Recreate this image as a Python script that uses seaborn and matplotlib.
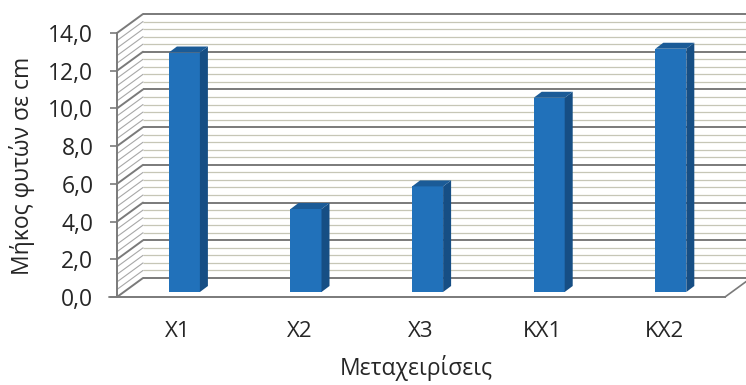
import numpy as np
import pandas as pd
import matplotlib
matplotlib.use("Agg")
import matplotlib.pyplot as plt
from matplotlib.patches import Polygon
import seaborn as sns

# Plant length per treatment (cm)
categories = ["X1", "X2", "X3", "KX1", "KX2"]
lengths = [12.7, 4.4, 5.6, 10.3, 12.9]
y_ticks = [0, 2, 4, 6, 8, 10, 12, 14]
y_tick_labels = ["0,0", "2,0", "4,0", "6,0", "8,0", "10,0", "12,0", "14,0"]
x_title = "Μεταχειρίσεις"
y_title = "Μήκος φυτών σε cm"

sns.set_theme(style="white")
plt.rcParams["font.family"] = ["Open Sans", "DejaVu Sans"]

W, H = 746, 385
fig = plt.figure(figsize=(W / 100, H / 100), dpi=100)
fig.patch.set_facecolor("white")

# front plane of the plot box, in pixels
left_px, right_px, bottom_px, top_px = 117, 725, 297, 33
ax = fig.add_axes([left_px / W, 1 - bottom_px / H,
                   (right_px - left_px) / W, (bottom_px - top_px) / H])
ax.set_facecolor("none")

XMIN, XMAX, YMIN, YMAX = -0.5, 4.5, 0.0, 14.0
sx = (XMAX - XMIN) / (right_px - left_px)   # data units per pixel
sy = (YMAX - YMIN) / (bottom_px - top_px)

# oblique depth of the box and of the columns (pixels -> data units)
ox, oy = 26 * sx, 19 * sy
fx, fy = 6.6 * sx, 5 * sy        # column front face offset
bx, by = 8 * sx, 6 * sy          # column depth

major_c = "#7a7a7a"
minor_c = "#c6c6b6"

levels = np.round(np.arange(0, 14.001, 0.4), 6)
for v in levels:
    is_major = abs(v / 2 - round(v / 2)) < 1e-6
    col = major_c if is_major else minor_c
    lw = 1.4 if is_major else 0.9
    # back wall
    ax.plot([XMIN + ox, XMAX + ox + 2], [v + oy, v + oy], color=col, lw=lw,
            clip_on=False, zorder=1, solid_capstyle="butt")
    # side wall
    ax.plot([XMIN, XMIN + ox], [v, v + oy], color=col if is_major else "#a8a8a8",
            lw=lw if is_major else 0.8, clip_on=False, zorder=1)

# floor edges
ax.plot([XMAX, XMAX + ox], [0, oy], color=major_c, lw=1.2, clip_on=False, zorder=1)
ax.plot([XMIN - 8 * sx, XMIN], [0, 0], color=major_c, lw=1.3, clip_on=False, zorder=1)

# columns
df = pd.DataFrame({"treatment": categories, "length": lengths})
sns.barplot(data=df, x="treatment", y="length", color="#2171ba", saturation=1,
            width=0.255, ax=ax, zorder=3)

for p in ax.patches[:]:
    x0, w, h = p.get_x(), p.get_width(), p.get_height()
    p.set_x(x0 + fx)
    p.set_y(fy)
    p.set_edgecolor("none")
    xa, xb = x0 + fx, x0 + fx + w
    y0, y1 = fy, fy + h
    side = Polygon([(xb, y0), (xb, y1), (xb + bx, y1 + by), (xb + bx, y0 + by)],
                   closed=True, facecolor="#164e84", edgecolor="none",
                   zorder=3, clip_on=False)
    topf = Polygon([(xa, y1), (xb, y1), (xb + bx, y1 + by), (xa + bx, y1 + by)],
                   closed=True, facecolor="#1b5b97", edgecolor="none",
                   zorder=3, clip_on=False)
    ax.add_patch(side)
    ax.add_patch(topf)
    p.set_clip_on(False)

ax.set_xlim(XMIN, XMAX)
ax.set_ylim(YMIN, YMAX)

for s in ["top", "right"]:
    ax.spines[s].set_visible(False)
for s in ["left", "bottom"]:
    ax.spines[s].set_color(major_c)
    ax.spines[s].set_linewidth(1.4)
    ax.spines[s].set_zorder(2)

ax.set_yticks(y_ticks, y_tick_labels)
ax.tick_params(axis="y", left=True, length=5, width=1.2, color=major_c, pad=12,
               labelsize=16.5, labelcolor="#262626")
ax.set_xticks(range(len(categories)), categories)
ax.tick_params(axis="x", bottom=False, length=0, pad=17, labelsize=16,
               labelcolor="#262626")

ax.set_xlabel(x_title, fontsize=16.5, color="#262626")
ax.xaxis.set_label_coords((416 - left_px) / (right_px - left_px),
                          -(368 - bottom_px) / (bottom_px - top_px))
ax.xaxis.label.set_va("center")
ax.set_ylabel(y_title, fontsize=16.5, color="#262626")
ax.yaxis.set_label_coords((22 - left_px) / (right_px - left_px),
                          (bottom_px - 166) / (bottom_px - top_px))
ax.yaxis.label.set_va("center")

fig.savefig("out.png", dpi=100, facecolor="white")
